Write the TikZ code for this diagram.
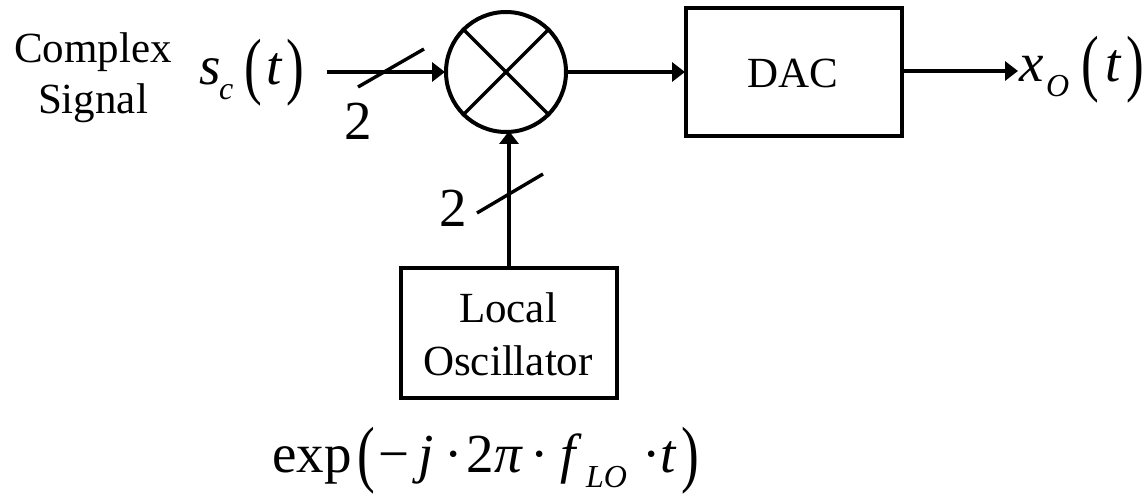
\documentclass[tikz,border=0pt]{standalone}
\usepackage{fontspec}
\usepackage{graphicx}
\setmainfont{Liberation Serif}
\usetikzlibrary{arrows.meta,shapes.geometric}
\newcommand{\fs}[1]{\fontsize{#1}{#1}\selectfont}
\newcommand{\putat}[2]{\makebox[0pt][l]{\kern#1pt #2}}
\newcommand{\mi}[1]{{\fs{55}\itshape #1}}
\newcommand{\mr}[1]{{\fs{55}#1}}
\newcommand{\msb}[1]{\raisebox{-15pt}{\fs{32}\itshape #1}}
\newcommand{\lp}{\raisebox{-6pt}{\scalebox{.72}[1]{\fs{74}(}}}
\newcommand{\rp}{\raisebox{-6pt}{\scalebox{.72}[1]{\fs{74})}}}
\tikzset{
  x=1pt,y=-1pt,
  wire/.style={line width=3.8pt},
  arrowwire/.style={wire,-{Triangle[length=13pt,width=19pt]},shorten >=-1pt},
  thinwire/.style={line width=3.4pt},
  blockbox/.style={draw,line width=4pt,inner sep=0pt},
  lbl/.style={inner sep=0pt,anchor=base,font=\fs{43}},
  mth/.style={inner sep=0pt,anchor=base west},
}
\begin{document}
\begin{tikzpicture}
\useasboundingbox (0,0) rectangle (1146,494);
\fill[white] (0,0) rectangle (1146,494);
% mixer
\node[ellipse,draw,line width=4pt,inner sep=0pt,minimum width=120pt,minimum height=120pt] (mix) at (506,72) {};
\draw[thinwire] (mix.135) -- (mix.-45);
\draw[thinwire] (mix.45) -- (mix.-135);
% blocks
\node[blockbox,minimum width=216pt,minimum height=128pt] (dac) at (794,72) {};
\node[lbl] (dact) at (793,88) {DAC};
\node[blockbox,minimum width=216pt,minimum height=130pt] (lo) at (509,333) {};
\node[lbl] (lot1) at (508,323) {Local};
\node[lbl] (lot2) at (508,375) {Oscillator};
% left labels
\node[lbl] (cs1) at (93,63) {Complex};
\node[lbl] (cs2) at (93,114) {Signal};
% math
\node[mth] (sc) at (199,85) {\putat{0}{\mi{s}}\putat{20}{\msb{c}}\putat{45}{\lp}\putat{67}{\mi{t}}\putat{87}{\rp}\kern108pt};
\node[mth] (xo) at (1019,82) {\putat{0}{\mi{x}}\putat{27}{\msb{O}}\putat{62}{\lp}\putat{86}{\mi{t}}\putat{107}{\rp}\kern125pt};
\node[mth] (expr) at (272,472) {\putat{0}{\mr{exp}}\putat{85}{\lp}\putat{106}{\mr{−}}\putat{146}{\mi{j}}\putat{172}{\mr{·}}\putat{194}{\mr{2}}\putat{222}{\mi{π}}\putat{258}{\mr{·}}\putat{288}{\mi{f}}\putat{314}{\msb{LO}}\putat{370}{\mr{·}}\putat{388}{\mi{t}}\putat{409}{\rp}\kern428pt};
% bus counts
\node[lbl,font=\fs{55}] (n1) at (358,140) {2};
\node[lbl,font=\fs{55}] (n2) at (453,227) {2};
% free ends
\coordinate (in) at (327,72);
\coordinate (out) at (1017,71);
\coordinate (s1a) at (358,87);
\coordinate (s1b) at (424,49);
\coordinate (s2a) at (477,213);
\coordinate (s2b) at (543,174);
% connectors
\draw[arrowwire] (in) -- (mix.west);
\draw[arrowwire] (mix.east) -- (dac.west);
\draw[arrowwire] (dac.east |- out) -- (out);
\draw[arrowwire] (lo.north -| mix.south) ++(3,0) -- ++(0,-134);
\draw[thinwire] (s1a) -- (s1b);
\draw[thinwire] (s2a) -- (s2b);
\end{tikzpicture}
\end{document}
